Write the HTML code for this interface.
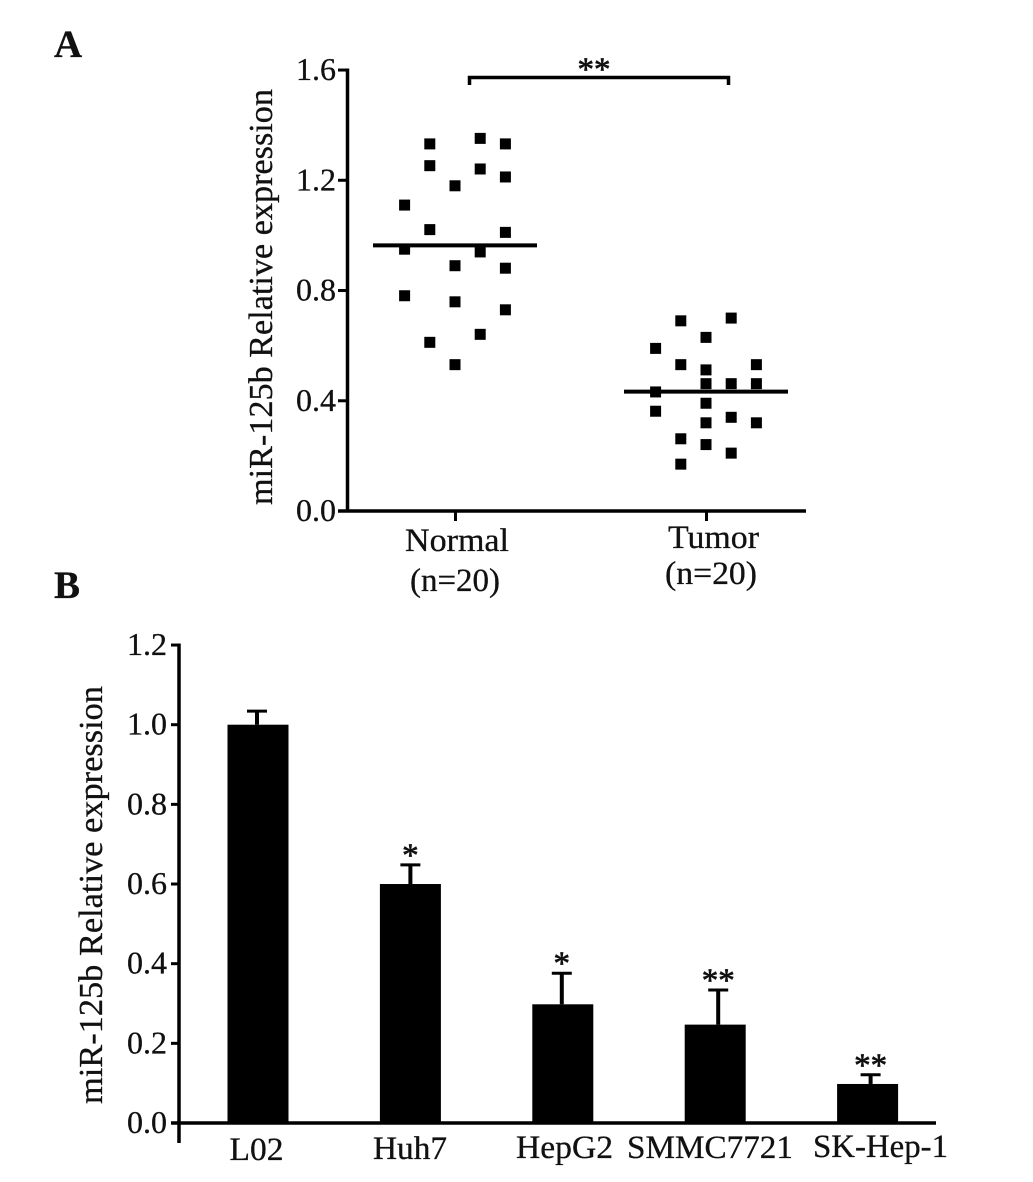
<!DOCTYPE html>
<html lang="en">
<head>
<meta charset="utf-8">
<title>miR-125b Relative expression</title>
<style>
html,body{margin:0;padding:0;background:#fff;width:1033px;height:1182px;overflow:hidden}
svg{display:block}
text{font-family:"Liberation Serif",serif;fill:#111;stroke:#111;stroke-width:.3px}
</style>
</head>
<body>
<svg id="figure" width="1033" height="1182" viewBox="0 0 1033 1182" xmlns="http://www.w3.org/2000/svg">
  <text x="54" y="57" font-size="39" font-weight="bold">A</text>
  <text x="54" y="598" font-size="39" font-weight="bold">B</text>
  <g id="panelA"></g>
  <g id="panelB"></g>
</svg>
<script>
// Panel A data
const scatterGroups = ['Normal', 'Tumor'];
const scatterTicks = [0, 0.4, 0.8, 1.2, 1.6];
const normalValues = [1.332, 1.352, 1.332, 1.253, 1.241, 1.212, 1.18, 1.11, 1.021, 1.011, 0.95, 0.94, 0.89, 0.881, 0.781, 0.759, 0.73, 0.641, 0.612, 0.531];
const normalSlots = [-1, 1, 2, -1, 1, 2, 0, -2, -1, 2, -2, 1, 0, 2, -2, 0, 2, 1, -1, 0];
const tumorValues = [0.69, 0.70, 0.63, 0.59, 0.531, 0.531, 0.512, 0.462, 0.462, 0.462, 0.432, 0.391, 0.362, 0.34, 0.32, 0.32, 0.262, 0.241, 0.21, 0.17];
const tumorSlots = [-1, 1, 0, -2, -1, 2, 0, 0, 1, 2, -2, 0, -2, 1, 0, 2, -1, 0, 1, -1];
const groupMeans = [0.964, 0.433];

// Panel B data
const barCategories = ['L02', 'Huh7', 'HepG2', 'SMMC7721', 'SK-Hep-1'];
const barValues = [1.0, 0.6, 0.298, 0.247, 0.098];
const barErrors = [0.034, 0.048, 0.078, 0.087, 0.023];
const barStars = ['', '*', '*', '**', '**'];
const barTicks = [0, 0.2, 0.4, 0.6, 0.8, 1.0, 1.2];

const NS = 'http://www.w3.org/2000/svg';
function mk(parent, tag, attrs, txt) {
  const e = document.createElementNS(NS, tag);
  for (const k in attrs) e.setAttribute(k, attrs[k]);
  if (txt !== undefined) e.textContent = txt;
  parent.appendChild(e);
  return e;
}

/* ---------- Panel A ---------- */
const A = document.getElementById('panelA');
const yA = v => 511 - v * 275.6;
const xA = (g, slot) => 455 + g * 251 + slot * 25.2;

const aYAxis = mk(A, 'line', {x1: 347.5, y1: yA(1.6) - 1.5, x2: 347.5, y2: 512.5, stroke: '#000', 'stroke-width': 3.5});


const aXAxis = mk(A, 'line', {x1: 338, y1: 511, x2: 806, y2: 511, stroke: '#000', 'stroke-width': 3.5});



scatterGroups.forEach((name, g) => {
  const tick = mk(A, 'line', {x1: xA(g, 0) + 0.5, y1: 511, x2: xA(g, 0) + 0.5, y2: 521, stroke: '#000', 'stroke-width': 3});
  
  
});

scatterTicks.forEach(t => {
  const tick = mk(A, 'line', {x1: 338, y1: yA(t), x2: 347, y2: yA(t), stroke: '#000', 'stroke-width': 3});
  
  
  const lab = mk(A, 'text', {x: 336, y: yA(t) + 10, 'text-anchor': 'end', 'font-size': 32}, t.toFixed(1));
  
  
});

const aTitle = mk(A, 'text', {transform: 'translate(272,505) rotate(-90)', 'font-size': 34, textLength: 416, lengthAdjust: 'spacingAndGlyphs'}, 'miR-125b Relative expression');



function drawPoints(values, slots, g) {
  values.forEach((v, i) => {
    const p = mk(A, 'rect', {x: xA(g, slots[i]) - 5.5, y: yA(v) - 5.5, width: 11, height: 11, fill: '#000'});
    
    
  });
}
drawPoints(normalValues, normalSlots, 0);
drawPoints(tumorValues, tumorSlots, 1);

groupMeans.forEach((m, g) => {
  const l = mk(A, 'line', {x1: xA(g, 0) - 82, y1: yA(m), x2: xA(g, 0) + 82, y2: yA(m), stroke: '#000', 'stroke-width': 4});
  
  
});

const catLayout = [
  {cx1: 457, w1: 104, y1: 551, cx2: 455, w2: 90, y2: 591},
  {cx1: 713.5, w1: 91, y1: 548, cx2: 711, w2: 92, y2: 584}
];
scatterGroups.forEach((name, g) => {
  const o = catLayout[g];
  const l1 = mk(A, 'text', {x: o.cx1, y: o.y1, 'text-anchor': 'middle', 'font-size': 33, textLength: o.w1, lengthAdjust: 'spacingAndGlyphs'}, name);
  
  
  const l2 = mk(A, 'text', {x: o.cx2, y: o.y2, 'text-anchor': 'middle', 'font-size': 33, textLength: o.w2, lengthAdjust: 'spacingAndGlyphs'}, '(n=20)');
  
  
});

const bracket = mk(A, 'path', {d: 'M469.5 85V77.5H728.5V85', fill: 'none', stroke: '#000', 'stroke-width': 3.5});


const aStars = mk(A, 'text', {x: 594, y: 80, 'text-anchor': 'middle', 'font-size': 33, style: 'stroke-width:.7px'}, '**');



/* ---------- Panel B ---------- */
const B = document.getElementById('panelB');
const yB = v => 1123 - v * 398.3;
const xB = i => 258 + i * 152.4;
const barW = 61;
const stemNudge = [-1, 0, -1, 3, 3];

barValues.forEach((v, i) => {
  const sx = xB(i) + stemNudge[i];
  const err = mk(B, 'line', {x1: sx, y1: yB(v), x2: sx, y2: yB(v + barErrors[i]), stroke: '#000', 'stroke-width': 4});
  
  
  const cap = mk(B, 'line', {x1: sx - 10, y1: yB(v + barErrors[i]), x2: sx + 10, y2: yB(v + barErrors[i]), stroke: '#000', 'stroke-width': 3});
  
  
  const bar = mk(B, 'rect', {x: xB(i) - barW / 2, y: yB(v), width: barW, height: yB(0) - yB(v), fill: '#000'});
  
  
  if (barStars[i]) {
    const s = mk(B, 'text', {x: sx, y: yB(v + barErrors[i]) + 1, 'text-anchor': 'middle', 'font-size': 33, style: 'stroke-width:.7px'}, barStars[i]);
    
    
  }
});

const bYAxis = mk(B, 'line', {x1: 179, y1: yB(1.2) - 1.5, x2: 179, y2: 1143, stroke: '#000', 'stroke-width': 3.5});


const bXAxis = mk(B, 'line', {x1: 171, y1: 1123, x2: 936, y2: 1123, stroke: '#000', 'stroke-width': 3.5});



barTicks.forEach(t => {
  const tick = mk(B, 'line', {x1: 171, y1: yB(t), x2: 179, y2: yB(t), stroke: '#000', 'stroke-width': 3});
  
  
  const lab = mk(B, 'text', {x: 167, y: yB(t) + 10, 'text-anchor': 'end', 'font-size': 32}, t.toFixed(1));
  
  
});

const bTitle = mk(B, 'text', {transform: 'translate(102,1104) rotate(-90)', 'font-size': 34, textLength: 418, lengthAdjust: 'spacingAndGlyphs'}, 'miR-125b Relative expression');



const labelLayout = [
  {dx: -1.5, w: 54, y: 1160},
  {dx: -0.4, w: 74, y: 1159},
  {dx: 1.7, w: 97, y: 1158},
  {dx: -5.2, w: 166, y: 1158},
  {dx: 12.9, w: 135, y: 1157}
];
barCategories.forEach((name, i) => {
  const o = labelLayout[i];
  const l = mk(B, 'text', {x: xB(i) + o.dx, y: o.y, 'text-anchor': 'middle', 'font-size': 33, textLength: o.w, lengthAdjust: 'spacingAndGlyphs'}, name);
  
  
});
</script>
</body>
</html>
